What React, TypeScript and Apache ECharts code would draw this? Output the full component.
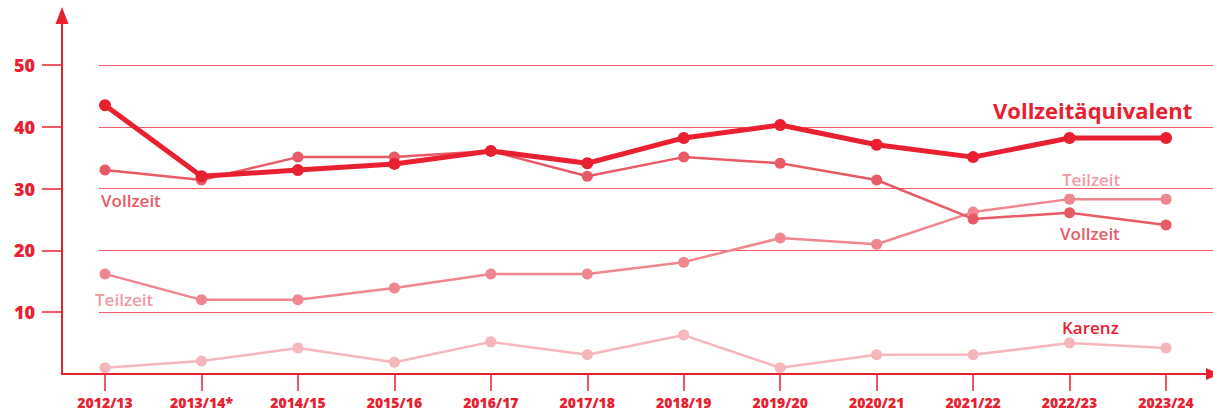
import React, { useEffect, useRef } from "react";
import * as echarts from "echarts";

const categories = ["2012/13", "2013/14*", "2014/15", "2015/16", "2016/17", "2017/18", "2018/19", "2019/20", "2020/21", "2021/22", "2022/23", "2023/24"];
const vollzeitaequivalent = [43.5, 32.0, 33.0, 34.0, 36.1, 34.1, 38.2, 40.3, 37.1, 35.1, 38.2, 38.2];
const vollzeit = [33.0, 31.4, 35.1, 35.1, 36.1, 32.0, 35.1, 34.1, 31.4, 25.1, 26.1, 24.1];
const teilzeit = [16.2, 12.0, 12.0, 13.9, 16.2, 16.2, 18.1, 22.0, 21.0, 26.2, 28.3, 28.3];
const karenz = [1.0, 2.1, 4.2, 1.9, 5.2, 3.1, 6.3, 1.0, 3.1, 3.1, 5.0, 4.2];
const yTicks = [10, 20, 30, 40, 50];

const RED = "#e8202f";
const VZ = "#e85a66";
const TZ = "#f0868f";
const KA = "#f5b6bc";
const AXFONT = "'Open Sans'";
const FONT = "'Open Sans'";

const pairs = (arr: number[]) => arr.map((v, i) => [i, v]);
const idx = categories.map((_, i) => i);

export default function App() {
  const ref = useRef<HTMLDivElement>(null);
  useEffect(() => {
    if (!ref.current) return;
    const chart = echarts.init(ref.current, null, { renderer: "svg" });
    const line = (name: string, data: number[], color: string, width: number, size: number, z: number) => ({
      name,
      type: "line",
      xAxisIndex: 0,
      yAxisIndex: 0,
      data: pairs(data),
      symbol: "circle",
      symbolSize: size,
      z,
      lineStyle: { color, width },
      itemStyle: { color },
    });
    chart.setOption({
      animation: false,
      grid: [
        { left: 62, right: 0, top: 15.6, bottom: 40 },
        { left: 99, right: 0, top: 15.6, bottom: 40 },
      ],
      xAxis: [
        {
          type: "value",
          gridIndex: 0,
          min: -0.446,
          max: 11.487,
          splitLine: { show: false },
          axisLine: { show: true, onZero: false, lineStyle: { color: RED, width: 2 }, symbol: ["none", "triangle"], symbolSize: [12, 14] },
          axisTick: { show: true, customValues: idx, length: 17, lineStyle: { color: RED, width: 1.5 } },
          axisLabel: {
            customValues: idx,
            formatter: (v: number) => categories[Math.round(v)] ?? "",
            color: RED,
            fontFamily: AXFONT,
            fontWeight: 800,
            fontSize: 14,
            margin: 21,
          },
        },
        { type: "value", gridIndex: 1, min: 0, max: 1, show: false },
      ],
      yAxis: [
        {
          type: "value",
          gridIndex: 0,
          min: 0,
          max: 58,
          interval: 10,
          splitLine: { show: false },
          axisLine: { show: true, onZero: false, lineStyle: { color: RED, width: 2 }, symbol: ["none", "triangle"], symbolSize: [13, 17] },
          axisTick: { show: true, customValues: yTicks, length: 20, lineStyle: { color: RED, width: 1.5 } },
          axisLabel: {
            customValues: yTicks,
            color: RED,
            fontFamily: AXFONT,
            fontWeight: 800,
            fontSize: 18,
            margin: 27,
          },
        },
        {
          type: "value",
          gridIndex: 1,
          min: 0,
          max: 58,
          interval: 10,
          axisLine: { show: false },
          axisTick: { show: false },
          axisLabel: { show: false },
          splitLine: { show: true, showMinLine: false, showMaxLine: false, lineStyle: { color: "#ef5a66", width: 1 } },
        },
      ],
      series: [
        line("Karenz", karenz, KA, 2.5, 11, 2),
        line("Teilzeit", teilzeit, TZ, 2.5, 11, 3),
        line("Vollzeit", vollzeit, VZ, 2.5, 11, 4),
        line("Vollzeitäquivalent", vollzeitaequivalent, RED, 5, 12, 5),
      ],
      graphic: [
        { type: "text", left: 993, top: 99, style: { text: "Vollzeitäquivalent", fill: RED, font: `700 22px ${FONT}` } },
        { type: "text", left: 1062, top: 171, style: { text: "Teilzeit", fill: "#f29aa3", font: `600 17px ${FONT}` } },
        { type: "text", left: 1060, top: 225, style: { text: "Vollzeit", fill: VZ, font: `600 17px ${FONT}` } },
        { type: "text", left: 1062, top: 319, style: { text: "Karenz", fill: RED, font: `600 17px ${FONT}` } },
        { type: "text", left: 101, top: 192, style: { text: "Vollzeit", fill: VZ, font: `600 17px ${FONT}` } },
        { type: "text", left: 95, top: 291, style: { text: "Teilzeit", fill: "#f29aa3", font: `600 17px ${FONT}` } },
      ],
    });
    return () => chart.dispose();
  }, []);
  return <div ref={ref} style={{ position: "fixed", left: 0, top: 0, width: 1213, height: 414, background: "#fff" }} />;
}
